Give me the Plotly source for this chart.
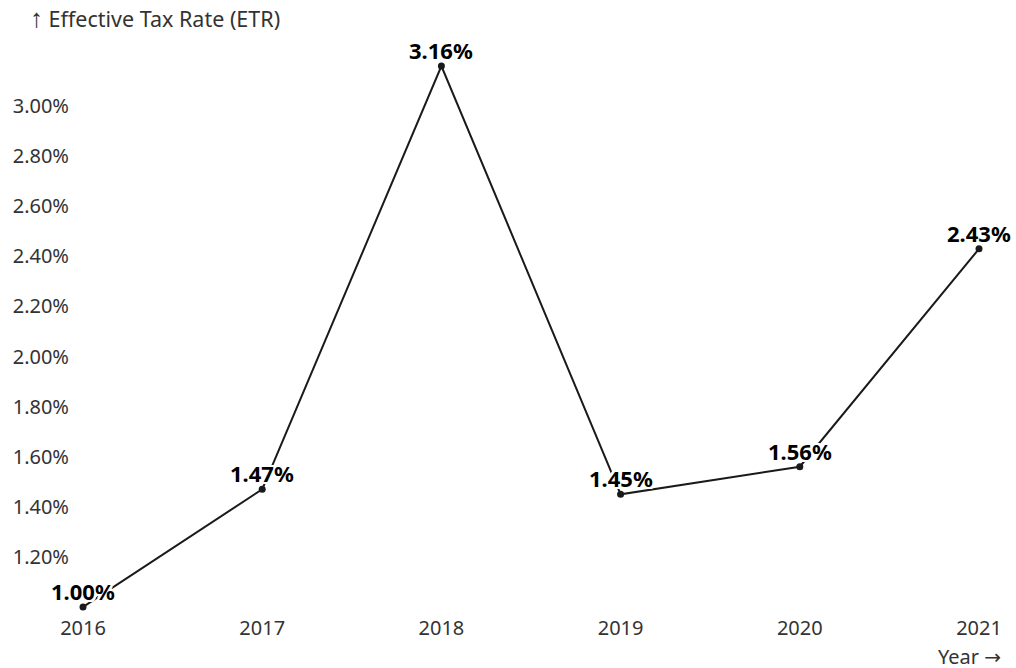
import plotly.graph_objects as go

# Effective tax rate by year
years = [2016, 2017, 2018, 2019, 2020, 2021]
etr_pct = [1.00, 1.47, 3.16, 1.45, 1.56, 2.43]
y_ticks = [1.2, 1.4, 1.6, 1.8, 2.0, 2.2, 2.4, 2.6, 2.8, 3.0]

FONT = "Noto Sans"
halo = ", ".join(f"{dx}px {dy}px 0 white" for dx in (-2, -1, 0, 1, 2) for dy in (-2, -1, 0, 1, 2) if (dx, dy) != (0, 0))

fig = go.Figure(
    go.Scatter(
        x=years,
        y=etr_pct,
        mode="lines+markers",
        line=dict(color="#1a1a1a", width=2),
        marker=dict(color="#1a1a1a", size=7),
        cliponaxis=False,
        hoverinfo="skip",
    )
)

# value labels above each point, with a white halo so the line passes beneath
value_labels = [
    dict(
        x=yr, y=v, xref="x", yref="y",
        text=f"<b>{v:.2f}%</b>",
        showarrow=False,
        xanchor="center", yanchor="middle",
        yshift=16,
        font=dict(family=FONT, size=22, color="#000000", shadow=halo),
    )
    for yr, v in zip(years, etr_pct)
]

fig.update_layout(
    width=1016,
    height=668,
    margin=dict(l=83, r=37, t=66, b=61),
    paper_bgcolor="white",
    plot_bgcolor="white",
    showlegend=False,
    font=dict(family=FONT, size=20, color="#333333"),
    xaxis=dict(
        range=[2016, 2021],
        tickmode="array",
        tickvals=years,
        ticktext=[str(y) for y in years],
        showgrid=False,
        zeroline=False,
        showline=False,
        ticks="",
        ticklabelstandoff=7,
    ),
    yaxis=dict(
        range=[1.0, 3.16],
        tickmode="array",
        tickvals=y_ticks,
        ticktext=[f"{v:.2f}%" for v in y_ticks],
        showgrid=False,
        zeroline=False,
        showline=False,
        ticks="",
        ticklabelstandoff=13,
    ),
    annotations=[
        dict(
            text="<span style='font-family:Liberation Sans;font-size:26px'>↑</span> Effective Tax Rate (ETR)",
            xref="paper", yref="paper",
            x=(28 - 83) / 896, y=1 + (66 - 18) / 541,
            xanchor="left", yanchor="middle",
            showarrow=False,
            font=dict(family=FONT, size=21.5, color="#333333"),
        ),
        dict(
            text="Year <span style='font-family:DejaVu Sans'>→</span>",
            xref="paper", yref="paper",
            x=(1003 - 83) / 896, y=-(656 - 607) / 541,
            xanchor="right", yanchor="middle",
            height=22,
            showarrow=False,
            font=dict(family=FONT, size=20, color="#333333"),
        ),
    ] + value_labels,
)

fig.write_html("out.html")
